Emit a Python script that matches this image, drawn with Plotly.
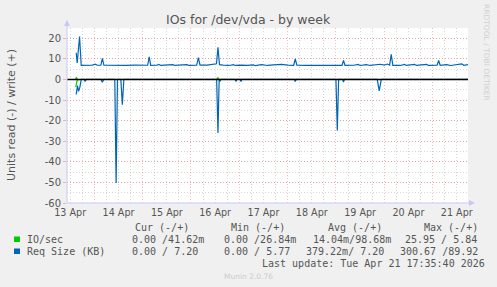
import plotly.graph_objects as go

# ---------------- data ----------------
write_t = ["2026-04-13 15:00", "2026-04-13 15:30", "2026-04-13 16:00", "2026-04-13 16:40", "2026-04-13 17:30",
           "2026-04-13 20:00", "2026-04-13 23:00", "2026-04-14 00:30", "2026-04-14 01:30", "2026-04-14 03:15",
           "2026-04-14 04:00", "2026-04-14 04:45", "2026-04-14 08:00", "2026-04-14 12:00", "2026-04-14 16:00",
           "2026-04-14 20:00", "2026-04-15 00:00", "2026-04-15 02:30", "2026-04-15 03:15", "2026-04-15 04:00",
           "2026-04-15 07:00", "2026-04-15 08:00", "2026-04-15 09:00", "2026-04-15 13:00", "2026-04-15 15:00",
           "2026-04-15 16:00", "2026-04-15 20:00", "2026-04-15 22:00", "2026-04-15 23:00", "2026-04-16 02:50",
           "2026-04-16 03:40", "2026-04-16 04:30", "2026-04-16 08:00", "2026-04-16 11:00", "2026-04-16 12:40",
           "2026-04-16 13:25", "2026-04-16 14:10", "2026-04-16 16:00", "2026-04-16 19:00", "2026-04-16 21:00",
           "2026-04-16 22:00", "2026-04-17 01:00", "2026-04-17 04:00", "2026-04-17 07:00", "2026-04-17 08:00",
           "2026-04-17 11:00", "2026-04-17 14:00", "2026-04-17 17:00", "2026-04-17 21:00", "2026-04-18 00:00",
           "2026-04-18 03:00", "2026-04-18 03:48", "2026-04-18 04:35", "2026-04-18 09:00", "2026-04-18 13:00",
           "2026-04-18 16:00", "2026-04-18 17:00", "2026-04-18 21:00", "2026-04-19 00:00", "2026-04-19 03:00",
           "2026-04-19 03:45", "2026-04-19 04:30", "2026-04-19 09:00", "2026-04-19 11:00", "2026-04-19 12:00",
           "2026-04-19 15:00", "2026-04-19 17:00", "2026-04-19 20:00", "2026-04-19 22:00", "2026-04-20 00:00",
           "2026-04-20 01:30", "2026-04-20 02:40", "2026-04-20 03:28", "2026-04-20 04:15", "2026-04-20 08:00",
           "2026-04-20 10:00", "2026-04-20 11:00", "2026-04-20 15:00", "2026-04-20 16:00", "2026-04-20 21:00",
           "2026-04-20 22:00", "2026-04-21 02:15", "2026-04-21 03:00", "2026-04-21 03:45", "2026-04-21 07:00",
           "2026-04-21 09:00", "2026-04-21 12:00", "2026-04-21 14:30", "2026-04-21 15:30", "2026-04-21 17:35"]
write_v = [13.0, 8.0, 13.5, 20.8, 6.8,
           6.8, 7.0, 7.4, 6.9, 6.9,
           10.2, 6.9, 6.8, 6.9, 6.8,
           7.0, 6.8, 6.9, 11.0, 6.8,
           6.9, 7.3, 6.8, 6.9, 7.2,
           6.8, 6.9, 7.2, 6.8, 6.9,
           10.6, 7.0, 7.0, 7.3, 7.6,
           15.6, 7.2, 7.0, 6.8, 7.2,
           6.8, 7.0, 6.8, 7.1, 6.7,
           7.2, 6.8, 7.1, 7.3, 7.0,
           6.9, 10.0, 6.9, 6.8, 6.8,
           6.6, 6.9, 6.8, 6.9, 6.8,
           9.3, 6.8, 6.9, 7.3, 6.8,
           7.2, 6.8, 7.1, 7.4, 7.0,
           7.5, 7.0, 12.2, 6.8, 6.8,
           7.3, 6.8, 7.3, 6.8, 7.3,
           6.8, 6.9, 9.2, 6.9, 7.2,
           6.8, 7.1, 7.6, 6.9, 7.2]

read_t = ["2026-04-13 15:00", "2026-04-13 15:40", "2026-04-13 16:10", "2026-04-13 16:50", "2026-04-13 17:30",
          "2026-04-13 19:00", "2026-04-13 19:25", "2026-04-13 20:00", "2026-04-14 03:20", "2026-04-14 04:00",
          "2026-04-14 04:40", "2026-04-14 10:10", "2026-04-14 10:50", "2026-04-14 11:30", "2026-04-14 13:10",
          "2026-04-14 13:55", "2026-04-14 14:40", "2026-04-16 12:45", "2026-04-16 13:25", "2026-04-16 14:00",
          "2026-04-16 14:20", "2026-04-16 15:00", "2026-04-16 22:00", "2026-04-16 22:20", "2026-04-16 22:45",
          "2026-04-17 00:25", "2026-04-17 00:50", "2026-04-17 01:15", "2026-04-18 03:20", "2026-04-18 03:48",
          "2026-04-18 04:15", "2026-04-19 00:00", "2026-04-19 00:40", "2026-04-19 01:20", "2026-04-19 03:20",
          "2026-04-19 03:45", "2026-04-19 04:10", "2026-04-19 20:30", "2026-04-19 21:30", "2026-04-19 22:30",
          "2026-04-21 17:35"]
read_v = [-7.2, -3.0, -5.8, -3.7, 0,
          0, -1.0, 0, 0, -1.4,
          0, 0, -50.3, 0, 0,
          -12.2, 0, 0, -26.0, 0,
          -1.0, 0, 0, -1.0, 0,
          0, -1.0, 0, 0, -1.0,
          0, 0, -24.8, 0, 0,
          -1.3, 0, 0, -5.5, 0,
          0]

# IO/sec (mostly hidden under the zero rule); None = hidden stretch
io_w_t = ["2026-04-13 14:45", "2026-04-13 15:00", "2026-04-13 15:40", "2026-04-14 00:00",
          "2026-04-16 12:45", "2026-04-16 13:25", "2026-04-16 14:00"]
io_w_v = [0.0, 1.0, 0.0, None, 0.0, 0.8, 0.0]
io_r_t = ["2026-04-13 14:45", "2026-04-13 15:30", "2026-04-13 16:30"]
io_r_v = [-3.7, -0.4, 0]

y_tickvals = [20, 10, 0, -10, -20, -30, -40, -50, -60]
y_ticktext = ["20", "10", "0", "-10", "-20", "-30", "-40", "-50", "-60"]

legend_names = ["IO/sec", "Req Size (KB)"]
legend_cur = ["0.00 /41.62m", "0.00 / 7.20"]
legend_min = ["0.00 /26.84m", "0.00 / 5.77"]
legend_avg = ["14.04m/98.68m", "379.22m/ 7.20"]
legend_max = ["25.95 / 5.84", "300.67 /89.92"]

GREEN = "#00cc00"
BLUE = "#0066b3"

# ---------------- layout helpers ----------------
W, H = 497, 287
L, R, T, B = 67, 468, 28, 203


def px(x):
    return (x - L) / (R - L)


def py(y):
    return (B - y) / (B - T)


fig = go.Figure()
fig.add_trace(go.Scatter(x=io_w_t, y=io_w_v, mode="lines", line=dict(color=GREEN, width=1.2),
                         connectgaps=False, showlegend=False))
fig.add_trace(go.Scatter(x=io_r_t, y=io_r_v, mode="lines", line=dict(color=GREEN, width=1.2), showlegend=False))
fig.add_trace(go.Scatter(x=write_t, y=write_v, mode="lines", line=dict(color=BLUE, width=1.2), showlegend=False))
fig.add_trace(go.Scatter(x=read_t, y=read_v, mode="lines", line=dict(color=BLUE, width=1.2), showlegend=False))

TXT = "#555555"
MONO = "DejaVu Sans Mono"
SANS = "DejaVu Sans"

annotations = []


def ann(text, x, y, size=10, color=TXT, family=MONO, xanchor="left", textangle=0):
    annotations.append(dict(text=text, x=px(x), y=py(y), xref="paper", yref="paper", showarrow=False,
                            xanchor=xanchor, yanchor="middle", font=dict(size=size, color=color, family=family),
                            textangle=textangle, borderpad=0))


ann("IOs for /dev/vda - by week", 248, 19, size=12.5, family=SANS, xanchor="center")
ann("Units read (-) / write (+)", 11, 115, size=11, family=SANS, xanchor="center", textangle=-90)
ann("RRDTOOL / TOBI OETIKER", 487, 52, size=7.5, color="#d0d0d0", family=SANS, xanchor="center", textangle=90)

ann("Cur (-/+)", 134, 227.5)
ann("Min (-/+)", 230, 227.5)
ann("Avg (-/+)", 327, 227.5)
ann("Max (-/+)", 423, 227.5)
rows_y = [239.5, 251.5]
cur_x = [130.5, 130.5]
min_x = [223.3, 223.3]
avg_x = [311.5, 305.3]
max_x = [404.3, 399]
for i in range(2):
    ann(legend_names[i], 26, rows_y[i])
    ann(legend_cur[i], cur_x[i], rows_y[i])
    ann(legend_min[i], min_x[i], rows_y[i])
    ann(legend_avg[i], avg_x[i], rows_y[i])
    ann(legend_max[i], max_x[i], rows_y[i])
ann("Last update: Tue Apr 21 17:35:40 2026", 261.3, 263.3)
ann("Munin 2.0.76", 248, 276.5, size=7.5, color="#cccccc", family=SANS, xanchor="center")

AX = "#c8c8f8"
shapes = [
    # zero line
    dict(type="line", xref="paper", yref="y", x0=0, x1=1, y0=0, y1=0, line=dict(color="black", width=1.4),
         layer="above"),
    # left axis line & arrow
    dict(type="line", xref="paper", yref="paper", x0=0, x1=0, y0=0, y1=py(21), line=dict(color=AX, width=1),
         layer="above"),
    dict(type="path", xref="paper", yref="paper",
         path=f"M {px(64)} {py(26)} L {px(70)} {py(26)} L {px(67)} {py(20)} Z",
         fillcolor=AX, line=dict(color=AX, width=0), layer="above"),
    # bottom axis line & arrow
    dict(type="line", xref="paper", yref="paper", x0=0, x1=px(471), y0=0, y1=0, line=dict(color=AX, width=1),
         layer="above"),
    dict(type="path", xref="paper", yref="paper",
         path=f"M {px(469)} {py(200)} L {px(469)} {py(206)} L {px(475)} {py(203)} Z",
         fillcolor=AX, line=dict(color=AX, width=0), layer="above"),
    # legend squares
    dict(type="rect", xref="paper", yref="paper", x0=px(14), x1=px(20), y0=py(242), y1=py(236.5),
         fillcolor=GREEN, line=dict(width=0)),
    dict(type="rect", xref="paper", yref="paper", x0=px(14), x1=px(20), y0=py(254), y1=py(248.5),
         fillcolor=BLUE, line=dict(width=0)),
]

MAJ = "rgba(235,100,100,0.45)"
MIN = "rgba(150,150,150,0.38)"

fig.update_layout(
    width=W, height=H,
    margin=dict(l=L, r=W - R, t=T, b=H - B, pad=0),
    paper_bgcolor="#f0f0f0", plot_bgcolor="white",
    showlegend=False,
    annotations=annotations,
    shapes=shapes,
    xaxis=dict(
        type="date",
        range=["2026-04-13 10:26", "2026-04-21 17:35"],
        tick0="2026-04-13 00:00", dtick=86400000,
        ticklabelmode="period", tickformat="%d %b",
        ticklabelstandoff=2,
        showgrid=True, gridcolor=MAJ, griddash="1px,2px", gridwidth=1,
        minor=dict(dtick=21600000, tick0="2026-04-13 00:00", showgrid=True, gridcolor=MIN,
                   griddash="1px,2px", gridwidth=1),
        ticks="", showline=False, zeroline=False,
        tickfont=dict(family=SANS, size=9.6, color=TXT),
        fixedrange=True,
    ),
    yaxis=dict(
        range=[-60, 25],
        tickvals=y_tickvals, ticktext=y_ticktext,
        showgrid=True, gridcolor=MAJ, griddash="1px,2px", gridwidth=1,
        minor=dict(dtick=5, tick0=0, showgrid=True, gridcolor=MIN, griddash="1px,2px", gridwidth=1),
        ticks="outside", ticklen=3, tickcolor=MAJ,
        showline=False, zeroline=False,
        tickfont=dict(family=SANS, size=10, color=TXT),
        fixedrange=True,
    ),
)

fig.write_html("out.html")
